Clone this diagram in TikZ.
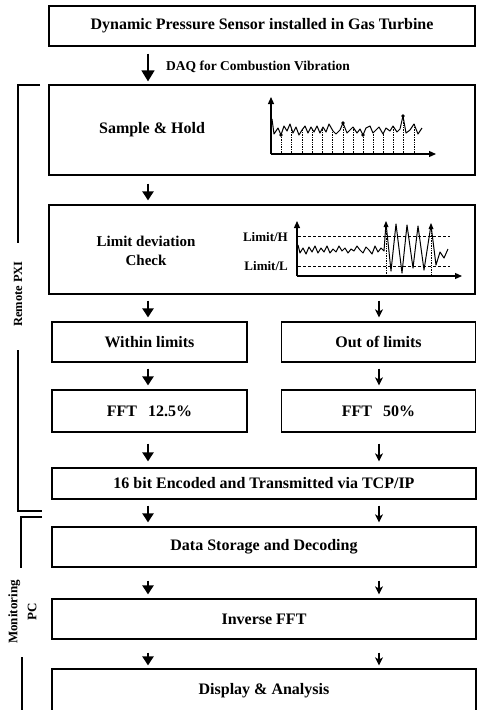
\documentclass[tikz,border=0pt]{standalone}
\usepackage{fontspec}
\setmainfont{Liberation Serif}
\usetikzlibrary{arrows.meta}
\tikzset{
  box/.style={draw, line width=1.2pt, inner sep=0pt, font=\bfseries\fontsize{16}{19}\selectfont, align=center},
  txt/.style={inner sep=0pt, font=\bfseries\fontsize{16}{19}\selectfont, align=center},
  small/.style={inner sep=0pt, font=\bfseries\fontsize{13}{15}\selectfont},
  fat/.style={line width=2.2pt, -{Triangle[width=11pt,length=9pt]}},
  daq/.style={line width=1.3pt, -{Triangle[width=13pt,length=11pt]}},
  slim/.style={line width=1.1pt, -{Stealth[width=8pt,length=8pt,inset=2pt]}},
  brk/.style={line width=1.1pt},
  axis/.style={line width=1.2pt, -{Triangle[width=6pt,length=7pt]}},
  sig/.style={line width=1pt, line join=round},
  samp/.style={line width=0.7pt, densely dotted},
  lim/.style={line width=0.8pt, densely dashed},
}
\begin{document}
\begin{tikzpicture}[x=1pt,y=-1pt]
\useasboundingbox (0,0) rectangle (478,710);
\fill[white] (0,0) rectangle (478,710);

% columns of the flow
\coordinate (L) at (148,0);
\coordinate (R) at (379,0);

% process boxes
\node[box, minimum width=426pt, minimum height=40pt] (sensor) at (262,26) {Dynamic Pressure Sensor installed in Gas Turbine};
\node[box, minimum width=426pt, minimum height=90pt] (sample) at (262,130) {};
\node[txt] (sampletxt) at (152,130) {Sample \& Hold};
\node[box, minimum width=426pt, minimum height=89pt] (limit) at (262,249.5) {};
\node[txt, font=\bfseries\fontsize{15}{19}\selectfont] (limittxt) at (146,251) {Limit deviation\\Check};
\node[box, minimum width=195pt, minimum height=40pt] (within) at (149.5,342) {Within limits};
\node[box, minimum width=194pt, minimum height=40pt] (outof) at (378.5,342) {Out of limits};
\node[box, minimum width=195pt, minimum height=42pt] (ffta) at (149.5,411) {FFT\hspace{11pt}12.5\%};
\node[box, minimum width=194pt, minimum height=42pt] (fftb) at (378.5,411) {FFT\hspace{11pt}50\%};
\node[box, minimum width=424pt, minimum height=31pt] (enc) at (264,483.5) {16 bit Encoded and Transmitted via TCP/IP};
\node[box, minimum width=424pt, minimum height=40pt] (store) at (264,547) {Data Storage and Decoding};
\node[box, minimum width=424pt, minimum height=40pt] (inv) at (264,619) {Inverse FFT};
\node[box, minimum width=424pt, minimum height=44pt] (disp) at (264,691) {Display \& Analysis};

% acquisition arrow and its label
\draw[daq, shorten <=7pt, shorten >=3pt] (sensor.south -| L) -- (sample.north -| L);
\node[small, anchor=west, font=\bfseries\fontsize{13.5}{15}\selectfont] (daqtxt) at (166,67) {DAQ for Combustion Vibration};

% left column arrows
\draw[fat, shorten <=8pt, shorten >=4pt] (sample.south -| L) -- (limit.north -| L);
\draw[fat, shorten <=6pt, shorten >=4pt] (limit.south -| L) -- (within.north -| L);
\draw[fat, shorten <=6pt, shorten >=4pt] (within.south -| L) -- (ffta.north -| L);
\draw[fat, shorten <=11pt, shorten >=6pt] (ffta.south -| L) -- (enc.north -| L);
\draw[fat, shorten <=6pt, shorten >=4pt] (enc.south -| L) -- (store.north -| L);
\draw[fat, shorten <=13pt, shorten >=4pt] (store.south -| L) -- (inv.north -| L);
\draw[fat, shorten <=13pt, shorten >=3pt] (inv.south -| L) -- (disp.north -| L);

% right column arrows
\draw[slim, shorten <=6pt, shorten >=4pt] (limit.south -| R) -- (outof.north -| R);
\draw[slim, shorten <=6pt, shorten >=4pt] (outof.south -| R) -- (fftb.north -| R);
\draw[slim, shorten <=11pt, shorten >=6pt] (fftb.south -| R) -- (enc.north -| R);
\draw[slim, shorten <=6pt, shorten >=4pt] (enc.south -| R) -- (store.north -| R);
\draw[slim, shorten <=13pt, shorten >=4pt] (store.south -| R) -- (inv.north -| R);
\draw[slim, shorten <=13pt, shorten >=3pt] (inv.south -| R) -- (disp.north -| R);

% group brackets
\node[small, rotate=90, font=\bfseries\fontsize{12.5}{15}\selectfont] (pxi) at (18,294) {Remote PXI};
\draw[brk] (40,85) -- (18,85) -- (18,243);
\draw[brk] (18,350) -- (18,511) -- (42,511);
\node[small, rotate=90, align=center, font=\bfseries\fontsize{13}{19}\selectfont] (mpc) at (22.5,612) {Monitoring\\PC};
\draw[brk] (42,517) -- (21,517) -- (21,568);
\draw[brk] (22,657) -- (22,712);

% sampled signal
\draw[axis] (271,154) -- (271,97);
\draw[axis] (271,154) -- (436,154);
\draw[sig] (272,119) -- (274,134) -- (278,128) -- (281,135) -- (284,126) -- (287,131) -- (290,124) -- (293,133)
  -- (296,127) -- (299,135) -- (302,130) -- (305,126) -- (308,133) -- (311,127) -- (314,132) -- (317,126)
  -- (320,133) -- (323,127) -- (326,132) -- (329,124) -- (333,131) -- (336,134) -- (340,130) -- (343,123)
  -- (347,133) -- (350,130) -- (353,127) -- (357,133) -- (360,129) -- (363,135) -- (366,128) -- (370,126)
  -- (373,133) -- (376,130) -- (379,127) -- (383,134) -- (386,128) -- (390,131) -- (393,126) -- (397,132)
  -- (400,129) -- (403,116) -- (406,133) -- (410,130) -- (414,124) -- (418,134) -- (422,128);
\foreach \sx/\sy in {281/135,291/128,302/130,312/129,322/129,332/130,343/123,353/127,363/135,373/133,383/133,393/126,403/116,414/124}
  \draw[samp] (\sx,153) -- (\sx,\sy);
\foreach \sx/\sy in {281/135,343/123,363/135,403/116}
  \fill (\sx,\sy) circle (1.8pt);

% limit deviation plot
\node[small, anchor=east] (limh) at (288,237) {Limit/H};
\node[small, anchor=east] (liml) at (288,266) {Limit/L};
\draw[axis] (297,276) -- (297,221);
\draw[axis] (297,276) -- (462,276);
\draw[lim] (298,236) -- (450,236);
\draw[lim] (298,266) -- (450,266);
\draw[sig] (298,245) -- (300,253) -- (303,248) -- (306,254) -- (309,247) -- (312,252) -- (315,246) -- (318,253)
  -- (321,248) -- (324,252) -- (327,246) -- (330,253) -- (333,249) -- (336,252) -- (339,246) -- (342,251)
  -- (345,248) -- (348,253) -- (351,249) -- (354,251) -- (357,246) -- (360,250) -- (363,253) -- (366,247)
  -- (369,250) -- (372,254) -- (375,246) -- (378,252) -- (381,248) -- (384,251)
  -- (386,223) -- (391,271) -- (396,224) -- (402,273) -- (407,225) -- (413,268) -- (418,226) -- (424,270)
  -- (431,225) -- (436,265) -- (440,252) -- (444,258) -- (448,249);
\draw[samp] (386,224) -- (386,275);
\draw[samp] (431,226) -- (431,275);
\fill (386,221) -- (383.5,227) -- (388.5,227) -- cycle;
\fill (431,223) -- (428.5,229) -- (433.5,229) -- cycle;
\end{tikzpicture}
\end{document}
